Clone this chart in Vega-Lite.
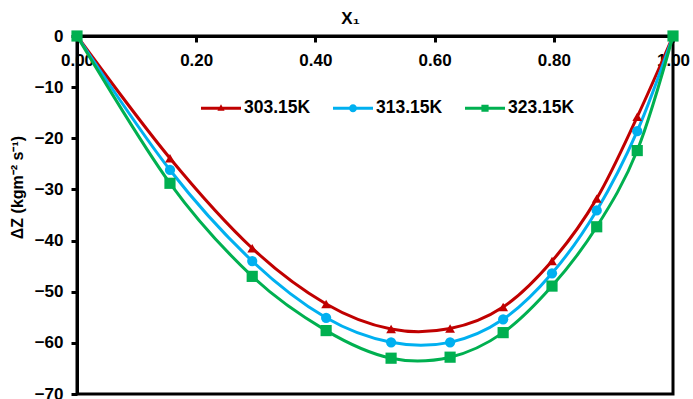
{
  "$schema": "https://vega.github.io/schema/vega-lite/v6.json",
  "autosize": "none",
  "width": 596,
  "height": 358,
  "padding": {"left": 77, "top": 36, "right": 20, "bottom": 5},
  "background": "white",
  "config": {
    "font": "Liberation Sans",
    "view": {"stroke": "black", "strokeWidth": 3},
    "axis": {"grid": false, "domainColor": "black", "domainWidth": 3, "tickColor": "black", "tickWidth": 3, "tickSize": 6, "labelFont": "Liberation Sans", "labelFontWeight": "bold", "labelFontSize": 17, "labelColor": "black", "titleFont": "Liberation Sans", "titleFontWeight": "bold", "titleFontSize": 17, "titleColor": "black"}
  },
  "data": {"values": [
    {"x": 0, "dz": 0, "series": "303.15K"},
    {"x": 0.156, "dz": -23.9, "series": "303.15K"},
    {"x": 0.294, "dz": -41.5, "series": "303.15K"},
    {"x": 0.418, "dz": -52.4, "series": "303.15K"},
    {"x": 0.527, "dz": -57.3, "series": "303.15K"},
    {"x": 0.626, "dz": -57.2, "series": "303.15K"},
    {"x": 0.715, "dz": -53.0, "series": "303.15K"},
    {"x": 0.797, "dz": -44.0, "series": "303.15K"},
    {"x": 0.872, "dz": -31.8, "series": "303.15K"},
    {"x": 0.940, "dz": -15.8, "series": "303.15K"},
    {"x": 1, "dz": 0, "series": "303.15K"},
    {"x": 0, "dz": 0, "series": "313.15K"},
    {"x": 0.156, "dz": -26.2, "series": "313.15K"},
    {"x": 0.294, "dz": -44.0, "series": "313.15K"},
    {"x": 0.418, "dz": -55.1, "series": "313.15K"},
    {"x": 0.527, "dz": -59.9, "series": "313.15K"},
    {"x": 0.626, "dz": -59.9, "series": "313.15K"},
    {"x": 0.715, "dz": -55.4, "series": "313.15K"},
    {"x": 0.797, "dz": -46.4, "series": "313.15K"},
    {"x": 0.872, "dz": -34.1, "series": "313.15K"},
    {"x": 0.940, "dz": -18.6, "series": "313.15K"},
    {"x": 1, "dz": 0, "series": "313.15K"},
    {"x": 0, "dz": 0, "series": "323.15K"},
    {"x": 0.156, "dz": -28.8, "series": "323.15K"},
    {"x": 0.294, "dz": -47.0, "series": "323.15K"},
    {"x": 0.418, "dz": -57.6, "series": "323.15K"},
    {"x": 0.527, "dz": -63.0, "series": "323.15K"},
    {"x": 0.626, "dz": -62.8, "series": "323.15K"},
    {"x": 0.715, "dz": -58.0, "series": "323.15K"},
    {"x": 0.797, "dz": -48.9, "series": "323.15K"},
    {"x": 0.872, "dz": -37.3, "series": "323.15K"},
    {"x": 0.940, "dz": -22.4, "series": "323.15K"},
    {"x": 1, "dz": 0, "series": "323.15K"}
  ]},
  "resolve": {"legend": {"color": "independent", "shape": "independent"}},
  "encoding": {
    "x": {"field": "x", "type": "quantitative", "scale": {"domain": [0, 1], "nice": false},
      "axis": {"orient": "bottom", "offset": -358, "values": [0, 0.2, 0.4, 0.6, 0.8, 1], "format": ".2f", "labelPadding": 10, "labelFlush": false, "title": "X₁", "titleY": -13, "titleX": 273, "titleBaseline": "alphabetic", "titleAlign": "center"}},
    "y": {"field": "dz", "type": "quantitative", "scale": {"domain": [-70, 0], "nice": false},
      "axis": {"values": [-70, -60, -50, -40, -30, -20, -10, 0], "labelPadding": 8, "title": "ΔZ (kgm⁻² s⁻¹)", "titleFontSize": 16, "titlePadding": 9, "titleY": 151, "titleAlign": "center", "labelFlush": false}}
  },
  "layer": [
    {"mark": {"type": "line", "interpolate": "cardinal", "strokeWidth": 3, "clip": false},
     "encoding": {"color": {"field": "series", "type": "nominal", "scale": {"domain": ["303.15K", "313.15K", "323.15K"], "range": ["#C00000", "#00B0F0", "#00B050"]}, "legend": null}}},
    {"transform": [{"filter": "datum.series === '303.15K'"}], "mark": {"type": "point", "shape": "triangle-up", "filled": true, "size": 95, "opacity": 1},
     "encoding": {"color": {"field": "series", "type": "nominal", "legend": null}}},
    {"transform": [{"filter": "datum.series === '313.15K'"}], "mark": {"type": "point", "shape": "circle", "filled": true, "size": 105, "opacity": 1},
     "encoding": {"color": {"field": "series", "type": "nominal", "legend": null}}},
    {"transform": [{"filter": "datum.series === '323.15K'"}], "mark": {"type": "point", "shape": "square", "filled": true, "size": 125, "opacity": 1},
     "encoding": {"color": {"field": "series", "type": "nominal", "legend": null}}},
    {"transform": [{"filter": "datum.series === 'none'"}],
     "mark": {"type": "point", "filled": true, "opacity": 1},
      "encoding": {
        "color": {"field": "series", "type": "nominal", "legend": {"title": null, "orient": "none", "direction": "horizontal", "legendX": 124, "legendY": 52, "symbolSize": 1600, "columnPadding": 22, "labelOffset": 3, "labelFontSize": 17.5, "labelFontWeight": "bold", "labelColor": "black", "labelFont": "Liberation Sans", "symbolStrokeWidth": 0, "symbolOpacity": 1}},
        "shape": {"field": "series", "type": "nominal", "scale": {"domain": ["303.15K", "313.15K", "323.15K"], "range": ["M-1,-0.075H1V0.075H-1Z M0,-0.2L0.18,0.12H-0.18Z", "M-1,-0.075H1V0.075H-1Z M-0.2,0A0.2,0.2 0 1,1 0.2,0A0.2,0.2 0 1,1 -0.2,0Z", "M-1,-0.075H1V0.075H-1Z M-0.18,-0.18H0.18V0.18H-0.18Z"]}, "legend": {"title": null, "orient": "none", "direction": "horizontal", "legendX": 124, "legendY": 52, "symbolSize": 1600, "columnPadding": 22, "labelOffset": 3, "labelFontSize": 17.5, "labelFontWeight": "bold", "labelColor": "black", "labelFont": "Liberation Sans", "symbolStrokeWidth": 0, "symbolOpacity": 1}}
      }
    }
  ]
}
